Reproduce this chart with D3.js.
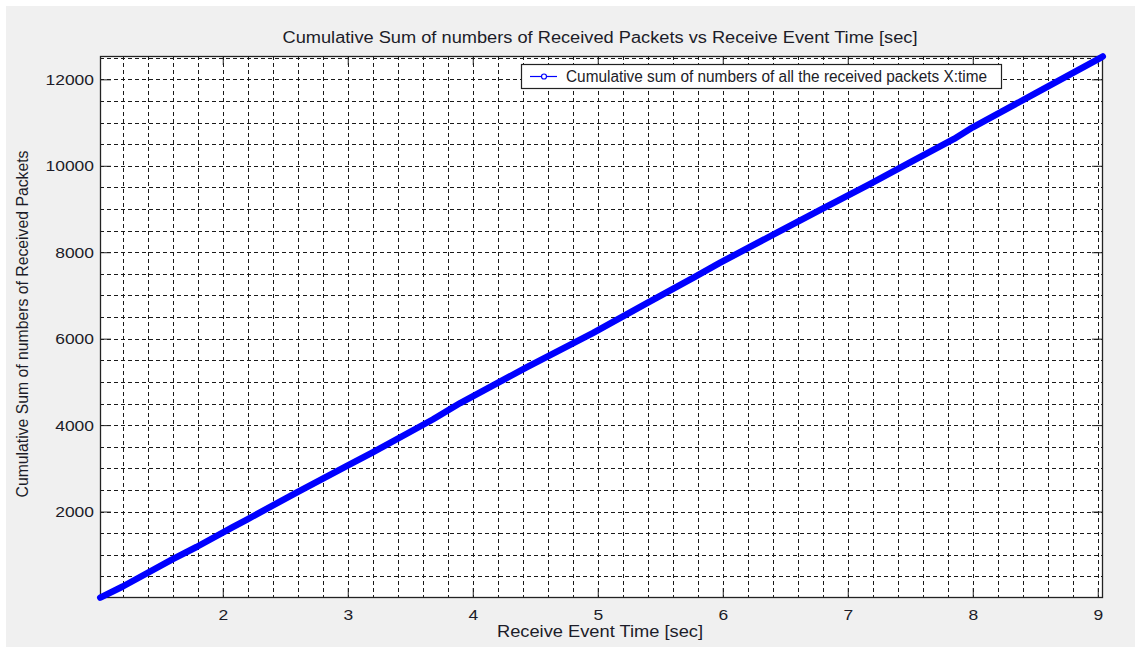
<!DOCTYPE html>
<html>
<head>
<meta charset="utf-8">
<script src="https://cdn.jsdelivr.net/npm/d3@7"></script>
<style>
  body { margin: 0; background: #fff; }
  svg text { font-family: "Liberation Sans", Arial, sans-serif; fill: #1c1c28; }
</style>
</head>
<body>
<div id="chart"></div>
<script>
var width = 1135;
var height = 647;
var margin = { top: 56, right: 32, bottom: 49, left: 100 };

// data
var time = [1.02, 1.2, 1.6, 1.79, 2.08, 2.19, 2.59, 2.99, 3.2, 3.68, 3.9, 4.43, 4.96, 5.39, 5.77, 5.98, 6.4, 6.78, 7.18, 7.48, 7.85, 8.0, 8.5, 9.0, 9.04];
var cumSum = [10, 266, 899, 1180, 1640, 1810, 2438, 3050, 3370, 4130, 4510, 5336, 6130, 6815, 7420, 7760, 8400, 8980, 9580, 10050, 10620, 10890, 11675, 12461, 12530];
var xTicks = [2, 3, 4, 5, 6, 7, 8, 9];
var yTicks = [2000, 4000, 6000, 8000, 10000, 12000];
var title = "Cumulative Sum of numbers of Received Packets vs Receive Event Time [sec]";
var xLabel = "Receive Event Time [sec]";
var yLabel = "Cumulative Sum of numbers of Received Packets";
var legendText = "Cumulative sum of numbers of all the received packets X:time";

var svg = d3.select("#chart")
  .append("svg")
  .attr("width", width)
  .attr("height", height);

// figure background (white strip top/left like the screenshot)
svg.append("rect")
  .attr("x", 6).attr("y", 6)
  .attr("width", width - 6).attr("height", height - 6)
  .attr("fill", "#f0f0f0");

var x = d3.scaleLinear()
  .domain([1.018, 9.042])
  .range([margin.left, width - margin.right]);

var y = d3.scaleLinear()
  .domain([0, 12540])
  .range([height - margin.bottom, margin.top]);

// plot area
svg.append("rect")
  .attr("x", margin.left).attr("y", margin.top)
  .attr("width", width - margin.right - margin.left)
  .attr("height", height - margin.bottom - margin.top)
  .attr("fill", "#fff");

// minor grid, dashed
var xGrid = d3.range(1.2, 9.01, 0.2);
var yGrid = d3.range(500, 12501, 500);

var grid = svg.append("g")
  .attr("stroke", "#1a1a1a")
  .attr("stroke-width", 1)
  .attr("stroke-dasharray", "4,3");

grid.selectAll(".vx")
  .data(xGrid)
  .join("line")
  .attr("x1", (d) => Math.round(x(d)) + 0.5)
  .attr("x2", (d) => Math.round(x(d)) + 0.5)
  .attr("y1", margin.top)
  .attr("y2", height - margin.bottom);

grid.selectAll(".hy")
  .data(yGrid)
  .join("line")
  .attr("y1", (d) => Math.round(y(d)) + 0.5)
  .attr("y2", (d) => Math.round(y(d)) + 0.5)
  .attr("x1", margin.left)
  .attr("x2", width - margin.right);

// the screenshot is a bit wider than tall, so stretch the text to match
var digitW = 9.7;

var xAxis = (g) =>
  g.attr("transform", `translate(0,${height - margin.bottom})`)
    .call(d3.axisBottom(x).tickValues(xTicks).tickSize(-10).tickPadding(8).tickFormat(d3.format("d")))
    .call((g) => g.select(".domain").remove())
    .call((g) => g.selectAll("line").attr("stroke", "#222"))
    .call((g) => g.selectAll("text")
      .attr("font-size", 15.5)
      .attr("dy", "0.9em")
      .attr("textLength", (d) => String(d).length * digitW)
      .attr("lengthAdjust", "spacingAndGlyphs"));

var xAxisTop = (g) =>
  g.attr("transform", `translate(0,${margin.top})`)
    .call(d3.axisTop(x).tickValues(xTicks).tickSize(-9).tickFormat(""))
    .call((g) => g.select(".domain").remove())
    .call((g) => g.selectAll("line").attr("stroke", "#222"));

var yAxis = (g) =>
  g.attr("transform", `translate(${margin.left},0)`)
    .call(d3.axisLeft(y).tickValues(yTicks).tickSize(-11).tickPadding(6).tickFormat(d3.format("d")))
    .call((g) => g.select(".domain").remove())
    .call((g) => g.selectAll("line").attr("stroke", "#222"))
    .call((g) => g.selectAll("text")
      .attr("font-size", 15.5)
      .attr("textLength", (d) => String(d).length * digitW)
      .attr("lengthAdjust", "spacingAndGlyphs"));

var yAxisRight = (g) =>
  g.attr("transform", `translate(${width - margin.right},0)`)
    .call(d3.axisRight(y).tickValues(yTicks).tickSize(-11).tickFormat(""))
    .call((g) => g.select(".domain").remove())
    .call((g) => g.selectAll("line").attr("stroke", "#222"));

svg.append("g").call(xAxis);
svg.append("g").call(xAxisTop);
svg.append("g").call(yAxis);
svg.append("g").call(yAxisRight);

// axes box
svg.append("rect")
  .attr("x", margin.left + 0.5).attr("y", margin.top + 0.5)
  .attr("width", width - margin.right - margin.left - 1)
  .attr("height", height - margin.bottom - margin.top - 1)
  .attr("fill", "none")
  .attr("stroke", "#222")
  .attr("stroke-width", 1.3);

// the series
var line = d3.line()
  .x((d, i) => x(time[i]))
  .y((d) => y(d));

svg.append("path")
  .datum(cumSum)
  .attr("d", line)
  .attr("fill", "none")
  .attr("stroke", "#0000ff")
  .attr("stroke-width", 6.5)
  .attr("stroke-linecap", "round")
  .attr("stroke-linejoin", "round");

// title and axis labels
svg.append("text")
  .attr("x", 600).attr("y", 43)
  .attr("text-anchor", "middle")
  .attr("font-size", 16)
  .attr("textLength", 635)
  .attr("lengthAdjust", "spacingAndGlyphs")
  .text(title);

svg.append("text")
  .attr("x", 600).attr("y", 637)
  .attr("text-anchor", "middle")
  .attr("font-size", 16)
  .attr("textLength", 206)
  .attr("lengthAdjust", "spacingAndGlyphs")
  .text(xLabel);

svg.append("text")
  .attr("transform", "translate(28,324) rotate(-90)")
  .attr("text-anchor", "middle")
  .attr("font-size", 16)
  .attr("textLength", 347)
  .attr("lengthAdjust", "spacingAndGlyphs")
  .text(yLabel);

// legend
var legend = svg.append("g").attr("transform", "translate(521,64)");

legend.append("rect")
  .attr("x", 0.5).attr("y", 0.5)
  .attr("width", 480).attr("height", 24)
  .attr("fill", "#fff")
  .attr("stroke", "#222")
  .attr("stroke-width", 1.2);

legend.append("line")
  .attr("x1", 9).attr("x2", 36)
  .attr("y1", 12.5).attr("y2", 12.5)
  .attr("stroke", "#0000ff")
  .attr("stroke-width", 1.2);

legend.append("circle")
  .attr("cx", 23).attr("cy", 12.5).attr("r", 2.5)
  .attr("fill", "#fff")
  .attr("stroke", "#0000ff")
  .attr("stroke-width", 1.2);

legend.append("text")
  .attr("x", 45).attr("y", 18)
  .attr("font-size", 16)
  .attr("textLength", 421)
  .attr("lengthAdjust", "spacingAndGlyphs")
  .text(legendText);
</script>
</body>
</html>
